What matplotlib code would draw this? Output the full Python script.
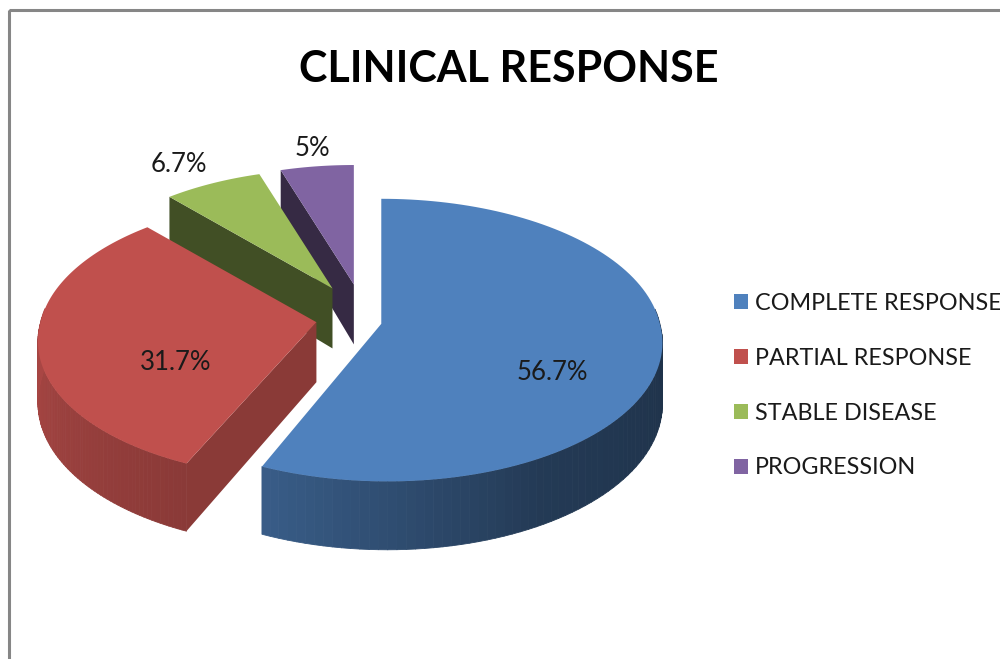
import numpy as np
import matplotlib
matplotlib.use("Agg")
import matplotlib.pyplot as plt
from matplotlib.collections import PolyCollection
from matplotlib.colors import to_rgb
from matplotlib.patches import Patch, Polygon, Rectangle

# data
categories = ["COMPLETE RESPONSE", "PARTIAL RESPONSE", "STABLE DISEASE", "PROGRESSION"]
values = [56.7, 31.7, 6.7, 5]
value_labels = ["56.7%", "31.7%", "6.7%", "5%"]
colors = ["#4F81BD", "#C0504D", "#9BBB59", "#8064A2"]

# layout of the fake 3d pie, in pixels
center = (349, 317)
rx, ry = 280, 142
explode = 33
nudge_x = [0, 0, 0, 10]  # purple slice sits a bit right of a pure radial move
slice_scale = [0.995, 0.985, 0.95, 0.95]  # small slices at the back are drawn smaller
front_shift = [6, -7, 0, 0]  # front corners lean away from each other
wall = 60
persp = 0.115  # back of the pie smaller, front bigger
label_pos = [(552, 372), (176, 363), (179, 165), (312, 149)]


def shade(color, f):
    return tuple(c * f for c in to_rgb(color))


def wall_shade(theta):
    # light comes from front left, the right side goes dark
    return np.interp(theta % 360, [0, 90, 150, 204, 270, 360], [0.38, 0.38, 0.45, 0.72, 0.88, 0.88])


def rim(apex, theta, scale, shift):
    t = np.radians(theta)
    k = (1 - persp * np.cos(t)) * scale
    x = apex[0] + rx * np.sin(t) * k + shift * np.maximum(0, -np.cos(t))
    y = apex[1] - ry * np.cos(t) * k
    h = wall * (1 - 0.14 * np.cos(t))
    return x, y, h


plt.rcParams["font.family"] = ["Lato", "DejaVu Sans"]
fig = plt.figure(figsize=(10, 6.59), dpi=100)
ax = fig.add_axes([0, 0, 1, 1])
ax.set_xlim(0, 1000)
ax.set_ylim(659, 0)
ax.axis("off")

ax.add_patch(Rectangle((9, 10), 1100, 800, fill=False, edgecolor="#868686", linewidth=2.2))

fractions = np.array(values) / sum(values)
ends = np.cumsum(fractions) * 360
starts = ends - fractions * 360

# back slices first, blue goes on top of everything
for i in [3, 2, 1, 0]:
    mid = np.radians((starts[i] + ends[i]) / 2)
    apex = (center[0] + explode * np.sin(mid) + nudge_x[i],
            center[1] - explode * np.cos(mid))
    thetas = np.linspace(starts[i], ends[i], 120)
    xs, ys, hs = rim(apex, thetas, slice_scale[i], front_shift[i])

    # rim wall as thin strips for the gradient, only the part facing us
    strips = []
    strip_colors = []
    for j in range(len(thetas) - 1):
        th = (thetas[j] + thetas[j + 1]) / 2
        if np.cos(np.radians(th)) > 0.1:
            continue
        strips.append([(xs[j], ys[j]), (xs[j + 1], ys[j + 1]),
                       (xs[j + 1], ys[j + 1] + hs[j + 1]), (xs[j], ys[j] + hs[j])])
        strip_colors.append(shade(colors[i], wall_shade(th)))
    if strips:
        ax.add_collection(PolyCollection(strips, facecolors=strip_colors, edgecolors=strip_colors, linewidths=0.6))

    # radial wall, only if its outward side faces us
    if np.cos(np.radians(starts[i] - 90)) < -1e-6:
        f = 0.72 if np.cos(np.radians(starts[i])) < 0 else 0.42
        quad = [apex, (xs[0], ys[0]), (xs[0], ys[0] + hs[0]), (apex[0], apex[1] + wall)]
        ax.add_patch(Polygon(quad, facecolor=shade(colors[i], f), edgecolor="none"))

    top = [apex] + list(zip(xs, ys))
    ax.add_patch(Polygon(top, facecolor=colors[i], edgecolor="none"))

for label, (x, y) in zip(value_labels, label_pos):
    ax.text(x, y, label, ha="center", va="center", fontsize=18.5, color="#1a1a1a")

ax.text(509, 69, "CLINICAL RESPONSE", ha="center", va="center", fontsize=31, fontweight="bold", color="black")

handles = [Patch(facecolor=c, edgecolor="none") for c in colors]
ax.legend(handles, categories, loc="upper left", bbox_to_anchor=(734, 293), bbox_transform=ax.transData,
          frameon=False, fontsize=16.8, handlelength=0.6, handleheight=0.6, handletextpad=0.3,
          labelspacing=1.45, labelcolor="#1a1a1a", borderpad=0, borderaxespad=0)

plt.savefig("out.png", dpi=100)
